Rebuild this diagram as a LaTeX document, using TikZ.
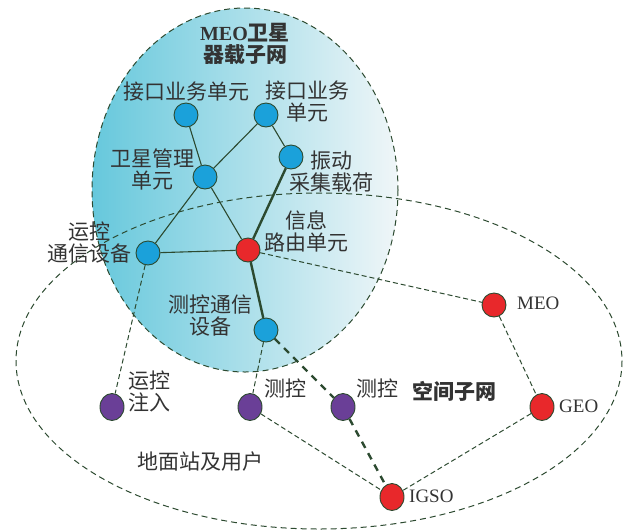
\documentclass[tikz,border=0pt]{standalone}
\usepackage{fontspec}
\setmainfont{Noto Sans CJK SC}
\newfontfamily\tnr{Liberation Serif}
\usetikzlibrary{shapes.geometric}
\definecolor{NodeBlue}{HTML}{1BA1DA}
\definecolor{NodeRed}{HTML}{E8282B}
\definecolor{NodePurple}{HTML}{6A3F97}
\definecolor{LineGreen}{HTML}{2C4A30}
\definecolor{TextGray}{HTML}{333333}
\definecolor{ShadeLeft}{HTML}{66C8DC}
\definecolor{ShadeRight}{HTML}{F0F6F8}

\begin{document}
\begin{tikzpicture}[x=1pt,y=-1pt,
    unit/.style={circle,draw=LineGreen,line width=0.9pt,fill=NodeBlue,minimum size=24pt,inner sep=0pt},
    router/.style={unit,fill=NodeRed},
    station/.style={ellipse,draw=LineGreen,line width=0.9pt,fill=NodePurple,minimum width=24pt,minimum height=27pt,inner sep=0pt},
    orbit/.style={station,fill=NodeRed},
    lbl/.style={text=TextGray,align=center,inner sep=0pt,font=\fontsize{21}{22}\selectfont},
    latin/.style={text=TextGray,inner sep=0pt,font=\tnr\fontsize{19}{22}\selectfont},
    title/.style={lbl,font=\bfseries\fontsize{21}{22}\selectfont},
    link/.style={LineGreen,line width=1.1pt},
    trunk/.style={LineGreen,line width=2.4pt},
    radio/.style={LineGreen,line width=1pt,dash pattern=on 5pt off 3pt},
    feeder/.style={LineGreen,line width=2.4pt,dash pattern=on 7pt off 6pt},
    border/.style={LineGreen,line width=1pt,dash pattern=on 6pt off 4pt}]
    \useasboundingbox (0,0) rectangle (624,531);

    % subnets
    \shade[left color=ShadeLeft,right color=ShadeRight] (245,190) ellipse [x radius=153,y radius=182];
    \draw[border] (245,190) ellipse [x radius=153,y radius=182];
    \draw[border] (319,361) ellipse [x radius=303,y radius=168];

    \node[title] (satnet) at (245,44) {{\tnr\bfseries\fontsize{20}{22}\selectfont MEO}卫星\\器载子网};
    \node[title] (spacenet) at (454,391) {空间子网};
    \node[lbl] (groundnet) at (200,462) {地面站及用户};

    % payload units
    \node[unit] (ifl) at (186,115) {};
    \node[unit] (ifr) at (266,115) {};
    \node[unit] (mgmt) at (205,177) {};
    \node[unit] (vib) at (291,157) {};
    \node[unit] (ctrl) at (148,253) {};
    \node[router] (route) at (248,250) {};
    \node[unit] (ttc) at (266,330) {};

    \node[lbl] (ifl-l) at (186,92) {接口业务单元};
    \node[lbl] (ifr-l) at (307,101) {接口业务\\单元};
    \node[lbl] (mgmt-l) at (152,169) {卫星管理\\单元};
    \node[lbl] (vib-l) at (331,172) {振动\\采集载荷};
    \node[lbl] (ctrl-l) at (89,243) {运控\\通信设备};
    \node[lbl] (route-l) at (306,231) {信息\\路由单元};
    \node[lbl] (ttc-l) at (210,316) {测控通信\\设备};

    % ground and orbit
    \node[station] (inj) at (112,407) {};
    \node[station] (tc1) at (250,407) {};
    \node[station] (tc2) at (343,407) {};
    \node[router] (meo) at (494,305) {};
    \node[orbit] (geo) at (542,407) {};
    \node[orbit] (igso) at (392,497) {};

    \node[lbl] (inj-l) at (149,391) {运控\\注入};
    \node[lbl] (tc1-l) at (285,388) {测控};
    \node[lbl] (tc2-l) at (377,388) {测控};
    \node[latin,anchor=west] (meo-l) at (517,303) {MEO};
    \node[latin,anchor=west] (geo-l) at (559,406) {GEO};
    \node[latin,anchor=west] (igso-l) at (409,496) {IGSO};

    \draw[link] (ifl) -- (mgmt);
    \draw[link] (ifr) -- (mgmt);
    \draw[link] (ifr) -- (vib);
    \draw[link] (mgmt) -- (ctrl);
    \draw[link] (mgmt) -- (route);
    \draw[link] (ctrl) -- (route);
    \draw[trunk] (vib) -- (route);
    \draw[trunk] (route) -- (ttc);

    \draw[radio] (ctrl) -- (inj);
    \draw[radio] (ttc) -- (tc1);
    \draw[radio] (tc1) -- (igso);
    \draw[radio] (route) -- (meo);
    \draw[radio] (meo) -- (geo);
    \draw[radio] (geo) -- (igso);
    \draw[feeder] (ttc) -- (tc2);
    \draw[feeder] (tc2) -- (igso);
\end{tikzpicture}
\end{document}
